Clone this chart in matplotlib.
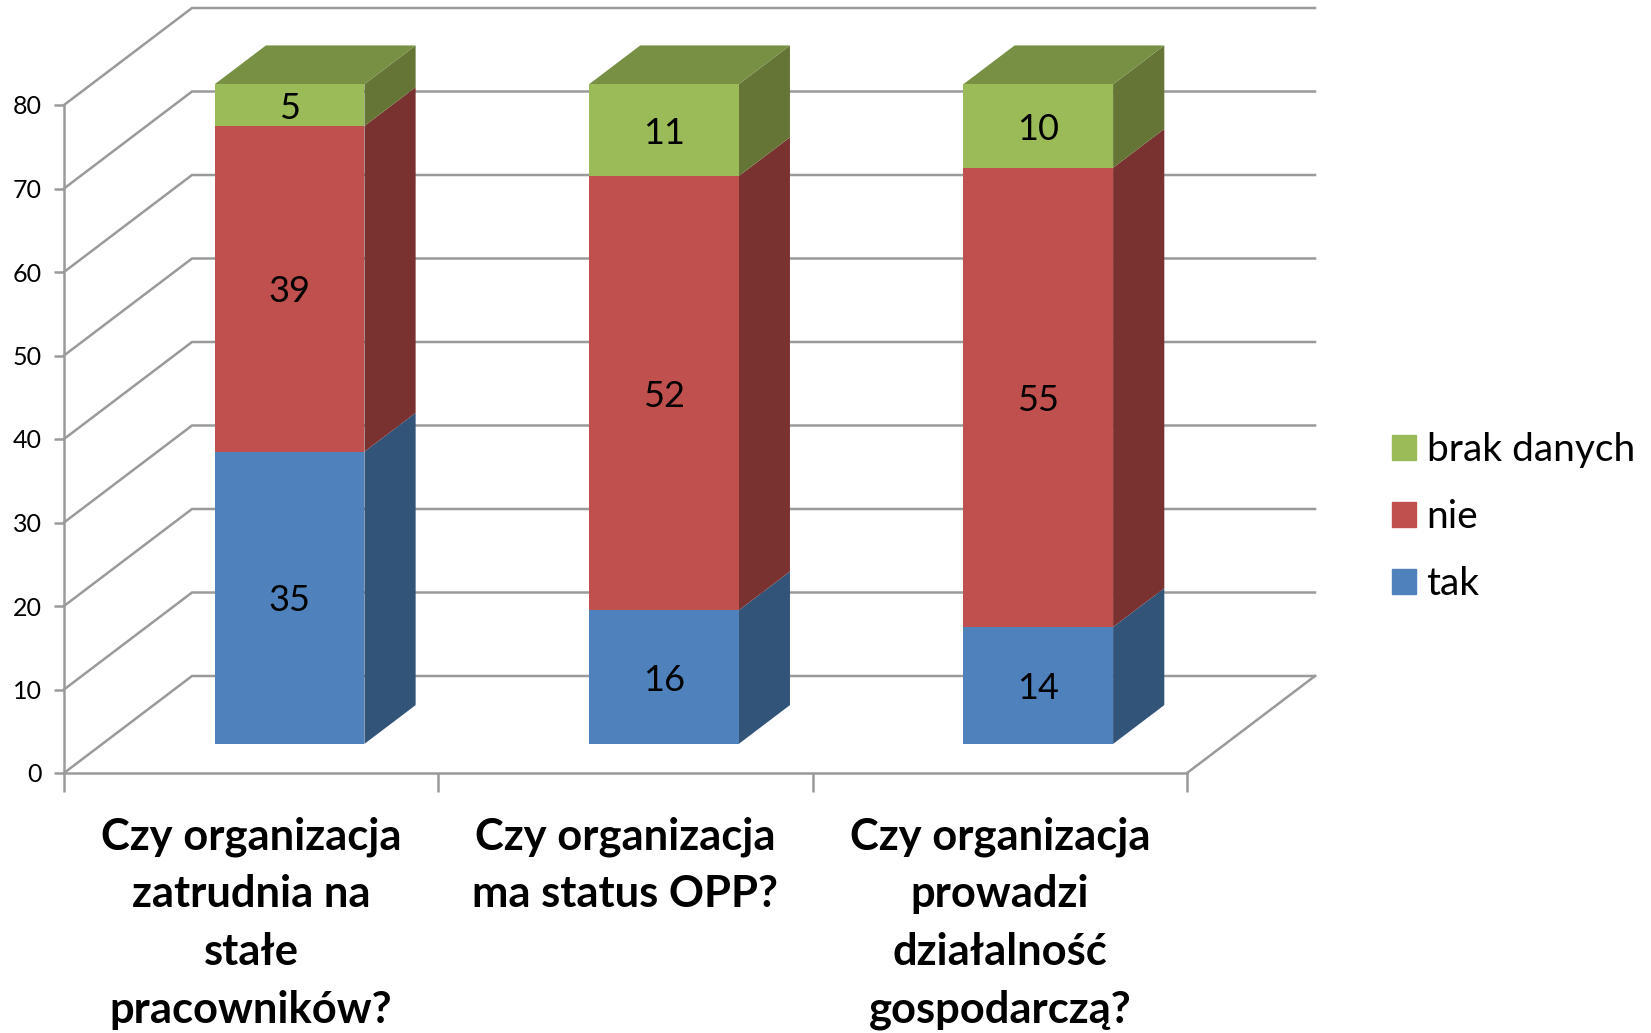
# Wykres slupkowy 3D (skumulowany) - odtworzenie w matplotlib
import matplotlib
matplotlib.use("Agg")
import matplotlib.pyplot as plt
from matplotlib.patches import Patch

plt.rcParams['font.family'] = ['Lato', 'DejaVu Sans']

# dane
pytania = ["Czy organizacja\nzatrudnia na\nstałe\npracowników?",
           "Czy organizacja\nma status OPP?",
           "Czy organizacja\nprowadzi\ndziałalność\ngospodarczą?"]
tak = [35, 16, 14]
nie = [39, 52, 55]
brak = [5, 11, 10]
serie = ["tak", "nie", "brak danych"]
yticks = [0, 10, 20, 30, 40, 50, 60, 70, 80]

# kolory: przod, bok, gora
przod = ["#4F81BD", "#C0504D", "#9BBB59"]
bok = ["#325479", "#7A3230", "#647536"]
gora = ["#3A6291", "#94403D", "#779044"]
szary = "#9A9A9A"

W, H = 1651, 1033
fig = plt.figure(figsize=(W / 100, H / 100), dpi=100)
ax = fig.add_axes([64 / W, 1 - 773 / H, (1187 - 64) / W, (773 - 105) / H])
ax.set_xlim(0, 3)
ax.set_ylim(0, 80)

# glebokosc 3D w jednostkach osi
DX = 128 / (1123 / 3)
DY = 97 / (668 / 80)
SZER = 0.4
D0, D1 = 0.3, 0.7


def rzut(x, y, d):
    return x + d * DX, y + d * DY


# sciany: linie siatki
for v in yticks:
    x0, y0 = rzut(0, v, 0)
    x1, y1 = rzut(0, v, 1)
    x2, y2 = rzut(3, v, 1)
    ax.plot([x0, x1, x2], [y0, y1, y2], color=szary, lw=1.8, clip_on=False,
            zorder=1, solid_joinstyle='miter')
x3, y3 = rzut(3, 0, 0)
x4, y4 = rzut(3, 0, 1)
ax.plot([x3, x4], [y3, y4], color=szary, lw=1.8, clip_on=False, zorder=1)

# slupki
dol = [0, 0, 0]
for k, wartosci in enumerate([tak, nie, brak]):
    for i, w in enumerate(wartosci):
        xl = i + 0.5 - SZER / 2
        xr = i + 0.5 + SZER / 2
        b = dol[i]
        xf, yf = rzut(i + 0.5, b, D0)
        ax.bar(xf, w, SZER, bottom=yf, color=przod[k], clip_on=False, zorder=3)
        # bok
        p = [rzut(xr, b, D0), rzut(xr, b, D1), rzut(xr, b + w, D1), rzut(xr, b + w, D0)]
        ax.fill([q[0] for q in p], [q[1] for q in p], color=bok[k], lw=0,
                clip_on=False, zorder=2)
        # gora - tylko ostatnia seria
        if k == 2:
            p = [rzut(xl, b + w, D0), rzut(xl, b + w, D1), rzut(xr, b + w, D1), rzut(xr, b + w, D0)]
            ax.fill([q[0] for q in p], [q[1] for q in p], color=gora[k], lw=0,
                    clip_on=False, zorder=2)
        ax.text(xf, yf + w / 2, str(w), ha='center', va='center_baseline', fontsize=26,
                color='black', zorder=4)
        dol[i] = b + w

# osie
for s in ['top', 'right']:
    ax.spines[s].set_visible(False)
for s in ['left', 'bottom']:
    ax.spines[s].set_color(szary)
    ax.spines[s].set_linewidth(1.8)
ax.patch.set_visible(False)
ax.set_yticks(yticks)
ax.tick_params(axis='y', length=7, width=1.8, color=szary, labelsize=18, pad=9)
ax.set_xticks([0, 1, 2, 3])
ax.set_xticklabels([])
ax.tick_params(axis='x', which='major', length=14, width=1.8, color=szary)
ax.set_xticks([0.5, 1.5, 2.5], minor=True)
ax.set_xticklabels(pytania, minor=True, fontsize=31.3, fontweight='bold',
                   linespacing=1.535, va='top')
ax.tick_params(axis='x', which='minor', length=0, pad=31)

# legenda
uchwyty = [Patch(color=przod[k], label=serie[k]) for k in [2, 1, 0]]
ax.legend(handles=uchwyty, loc='center left', bbox_to_anchor=(1392 / W, 1 - 491 * 1.053 / H),
          bbox_transform=fig.transFigure, frameon=False, fontsize=28,
          handlelength=0.62, handleheight=0.62, handletextpad=0.27, labelspacing=0.8,
          borderpad=0, borderaxespad=0)

fig.savefig("out.png", dpi=100)
